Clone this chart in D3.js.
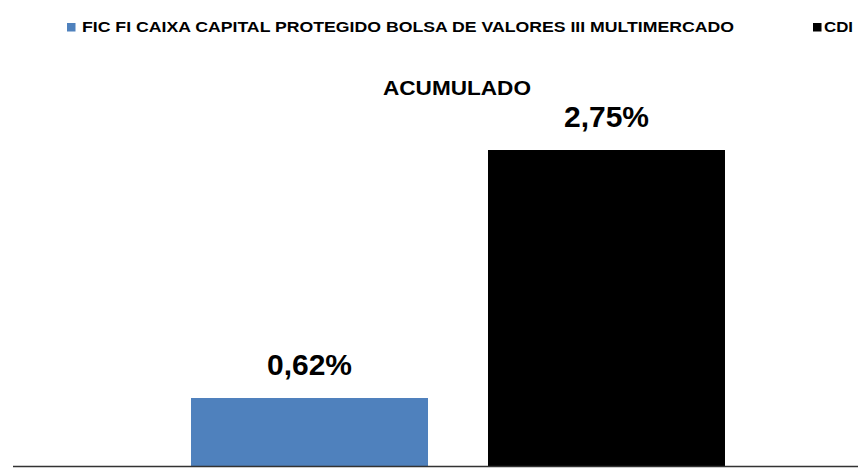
<!DOCTYPE html>
<html>
<head>
<meta charset="utf-8">
<script src="https://cdn.jsdelivr.net/npm/d3@7"></script>
<style>
  html, body { margin: 0; padding: 0; background: #fff; }
  svg { display: block; font-family: "Liberation Sans", Arial, sans-serif; }
</style>
</head>
<body>
<svg id="chart" width="858" height="468"></svg>
<script>
// ---- data ----
const seriesNames = ["FIC FI CAIXA CAPITAL PROTEGIDO BOLSA DE VALORES III MULTIMERCADO", "CDI"];
const seriesValues = [0.62, 2.75];
const seriesColors = ["#4F81BD", "#000000"];
const valueLabels = ["0,62%", "2,75%"];
const chartTitle = "ACUMULADO";

const svg = d3.select("#chart");
const W = 858, H = 468;

const baselineY = 466.5;
const x = d3.scaleBand()
  .domain(seriesNames)
  .range([14, 902])
  .paddingInner(0.202)
  .paddingOuter(0.596);

const y = d3.scaleLinear()
  .domain([0, 3])
  .range([470.2, 120.9]);

// bars
svg.append("g").selectAll("rect")
  .data(seriesNames)
  .join("rect")
  .attr("x", d => x(d))
  .attr("width", x.bandwidth())
  .attr("y", (d, i) => y(seriesValues[i]))
  .attr("height", (d, i) => baselineY - y(seriesValues[i]))
  .attr("fill", (d, i) => seriesColors[i]);

// value labels
svg.append("g").selectAll("text")
  .data(seriesNames)
  .join("text")
  .attr("x", d => x(d) + x.bandwidth() / 2)
  .attr("y", (d, i) => y(seriesValues[i]) - 23)
  .attr("text-anchor", "middle")
  .attr("font-weight", "bold")
  .attr("font-size", 30)
  .attr("fill", "#000")
  .text((d, i) => valueLabels[i]);

// axis baseline
svg.append("line")
  .attr("x1", 13).attr("x2", W)
  .attr("y1", baselineY).attr("y2", baselineY)
  .attr("stroke", "#333")
  .attr("stroke-width", 1.5);

// title
svg.append("text")
  .attr("x", 457)
  .attr("y", 95)
  .attr("text-anchor", "middle")
  .attr("font-weight", "bold")
  .attr("font-size", 21)
  .attr("textLength", 148)
  .attr("lengthAdjust", "spacingAndGlyphs")
  .text(chartTitle);

// legend
const legendPos = [{sx: 67, tx: 82, tl: 652}, {sx: 813, tx: 824, tl: 29}];
const lg = svg.append("g");
seriesNames.forEach((name, i) => {
  lg.append("rect")
    .attr("x", legendPos[i].sx).attr("y", 23)
    .attr("width", 8.5).attr("height", 8.5)
    .attr("fill", seriesColors[i]);
  lg.append("text")
    .attr("x", legendPos[i].tx)
    .attr("y", 31.5)
    .attr("font-weight", "bold")
    .attr("font-size", 14)
    .attr("textLength", legendPos[i].tl)
    .attr("lengthAdjust", "spacingAndGlyphs")
    .text(name);
});
</script>
</body>
</html>
